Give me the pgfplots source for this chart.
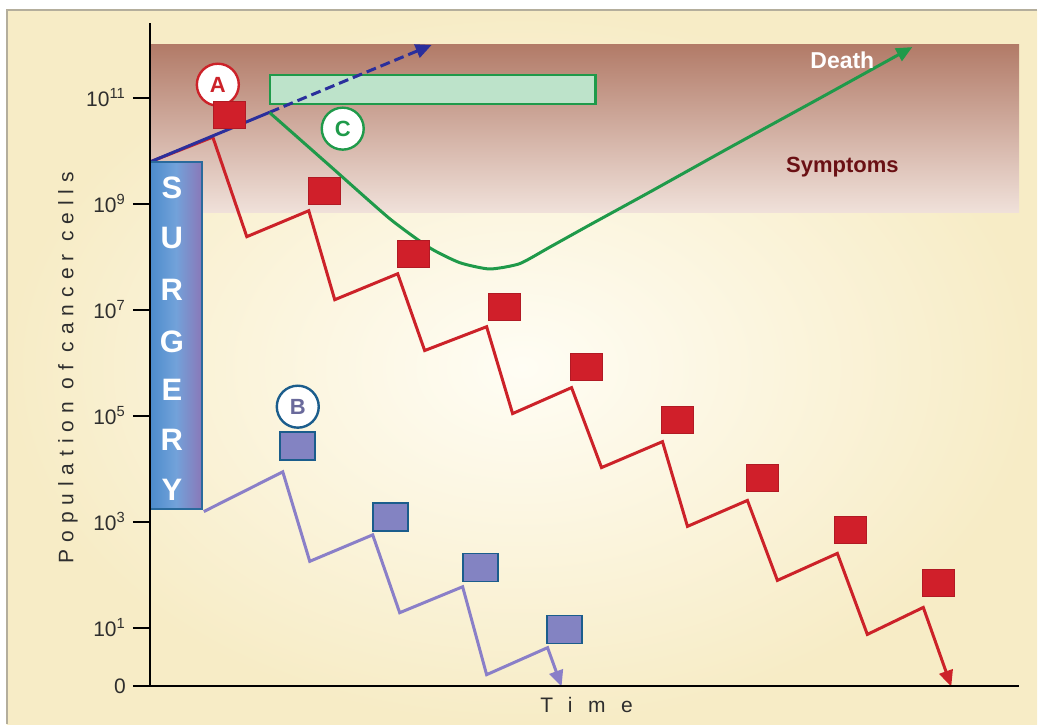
\documentclass[border=0pt]{standalone}
\usepackage{fontspec}
\setmainfont{Liberation Sans}
\usepackage{pgfplots}
\pgfplotsset{compat=1.18}
\usetikzlibrary{arrows.meta}
\definecolor{canvasIn}{HTML}{FFFDF4}
\definecolor{canvasOut}{HTML}{F7ECC6}
\definecolor{frameGrey}{HTML}{B4AE9C}
\definecolor{bandTop}{HTML}{B27B68}
\definecolor{bandBot}{HTML}{F0E1DA}
\definecolor{redLine}{HTML}{CC2229}
\definecolor{redSq}{HTML}{D01F2A}
\definecolor{greenLine}{HTML}{1F9A4A}
\definecolor{greenBox}{HTML}{BDE3CA}
\definecolor{darkBlue}{HTML}{2B2F9C}
\definecolor{lavender}{HTML}{8A7FC8}
\definecolor{blueSq}{HTML}{8383C2}
\definecolor{blueSqEdge}{HTML}{1B5D8C}
\definecolor{surgL}{HTML}{4C8BCB}
\definecolor{surgM}{HTML}{72A2DA}
\definecolor{surgR}{HTML}{8A78B8}
\definecolor{surgEdge}{HTML}{2A6A9C}
\definecolor{inkGrey}{HTML}{2E2E2E}
\definecolor{maroon}{HTML}{6A1014}

\tikzset{
  surgLetter/.style={font=\bfseries\fontsize{15.5}{15.5}\selectfont, text=white},
  tag/.style={circle, fill=white, line width=1.2pt, minimum size=21pt, inner sep=0pt,
    font=\bfseries\fontsize{11}{11}\selectfont},
}

\begin{document}
\begin{tikzpicture}
\begin{axis}[
  scale only axis,
  width=435pt, height=332pt,
  xmin=0, xmax=870,
  ymin=-0.113, ymax=12.415,
  axis lines*=left,
  axis line style={black, line width=1pt},
  axis on top,
  clip=false,
  xtick=\empty,
  ytick={-0.113,1,3,5,7,9,11},
  yticklabels={0,10\textsuperscript{1},10\textsuperscript{3},10\textsuperscript{5},10\textsuperscript{7},10\textsuperscript{9},10\textsuperscript{11}},
  tick align=outside,
  major tick length=8.5pt,
  tick style={black, line width=1pt},
  yticklabel style={font=\fontsize{10.5}{12}\selectfont, text=inkGrey},
  xlabel={\addfontfeature{LetterSpace=74}Time},
  ylabel={\addfontfeature{LetterSpace=33}Population of cancer cells},
  every axis x label/.style={at={(rel axis cs:0.5023,-0.0285)}, anchor=center,
    font=\fontsize{10.5}{12}\selectfont, text=inkGrey},
  every axis y label/.style={at={(rel axis cs:-0.0943,0.4805)}, anchor=center, rotate=90,
    font=\fontsize{10.5}{12}\selectfont, text=inkGrey},
]
% canvas
\fill[white] (axis cs:-150,12.849) rectangle (axis cs:888,-0.830);
\shade[inner color=canvasIn, outer color=canvasOut] (axis cs:-143,12.66) rectangle (axis cs:888,-0.830);
\draw[frameGrey, line width=0.8pt] (axis cs:-143,-0.830) -- (axis cs:-143,12.66) -- (axis cs:888,12.66);

% symptom band and green box
\shade[top color=bandTop, bottom color=bandBot] (axis cs:0,8.83) rectangle (axis cs:870,12.0);
\filldraw[fill=greenBox, draw=greenLine, line width=1.1pt] (axis cs:120,10.89) rectangle (axis cs:446,11.43);

% A: red course
\addplot[redLine, line width=1.5pt, -{Triangle[length=8pt,width=7pt]}] coordinates {
  (0,9.79) (63,10.26) (97,8.38) (159,8.87) (185,7.19) (248,7.68)
  (275,6.23) (337,6.68) (363,5.04) (422,5.53) (452,4.02) (513,4.51)
  (538,2.91) (598,3.40) (628,1.89) (688,2.40) (718,0.87) (774,1.38) (802,-0.113)
};
\addplot[only marks, mark=square*, mark size=6.75pt,
  mark options={xscale=1.185, fill=redSq, draw=redSq!85!black, line width=0.3pt}] coordinates {
  (79,10.68) (175,9.25) (264,8.06) (355,7.06) (437,5.92)
  (528,4.92) (613,3.83) (701,2.85) (789,1.85)
};

% untreated growth
\addplot[darkBlue, line width=1.5pt] coordinates {(0,9.79) (120,10.73)};
\addplot[darkBlue, line width=1.5pt, dash pattern=on 5pt off 2.5pt,
  -{Triangle[length=8pt,width=7pt]}] coordinates {(120,10.73) (282,12.0)};

% C: green course
\addplot[greenLine, line width=1.5pt, smooth, tension=0.35,
  -{Triangle[length=8pt,width=7pt]}] coordinates {
  (120,10.72) (180,9.72) (240,8.72) (280,8.17) (310,7.89)
  (340,7.77) (370,7.87) (400,8.18) (440,8.60) (500,9.22)
  (580,10.06) (670,10.99) (763,11.96)
};

% B: blue course
\addplot[lavender, line width=1.5pt, -{Triangle[length=8pt,width=7pt]}] coordinates {
  (54,3.19) (133,3.94) (160,2.25) (223,2.75) (250,1.28) (313,1.77)
  (337,0.11) (398,0.62) (412,-0.113)
};
\addplot[only marks, mark=square*, mark size=7pt,
  mark options={xscale=1.25, fill=blueSq, draw=blueSqEdge, line width=0.8pt}] coordinates {
  (148,4.43) (241,3.09) (331,2.13) (415,0.96)
};

% surgery column
\shade[left color=surgL, right color=surgR, middle color=surgM] (axis cs:0,9.79) rectangle (axis cs:52,3.23);
\draw[surgEdge, line width=1pt] (axis cs:0,9.79) rectangle (axis cs:52,3.23);
\node[surgLetter] at (axis cs:22,9.30) {S};
\node[surgLetter] at (axis cs:22,8.36) {U};
\node[surgLetter] at (axis cs:22,7.38) {R};
\node[surgLetter] at (axis cs:22,6.40) {G};
\node[surgLetter] at (axis cs:22,5.49) {E};
\node[surgLetter] at (axis cs:22,4.55) {R};
\node[surgLetter] at (axis cs:22,3.60) {Y};

% labels
\node[tag, draw=redLine, text=redLine] at (axis cs:68,11.25) {A};
\node[tag, draw=blueSqEdge, text=blueSq!80!black] at (axis cs:148,5.17) {B};
\node[tag, draw=greenLine, text=greenLine] at (axis cs:193,10.42) {C};
\node[font=\bfseries\fontsize{11.5}{12}\selectfont, text=white] at (axis cs:693,11.72) {Death};
\node[font=\bfseries\fontsize{11}{12}\selectfont, text=maroon] at (axis cs:693,9.70) {Symptoms};
\end{axis}
\end{tikzpicture}
\end{document}
